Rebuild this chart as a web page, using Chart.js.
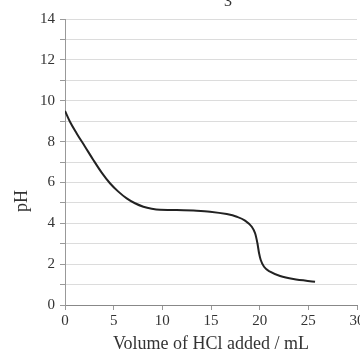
<!DOCTYPE html>
<html>
<head>
<meta charset="utf-8">
<script src="https://cdn.jsdelivr.net/npm/chart.js@4/dist/chart.umd.min.js"></script>
<style>
  html, body { margin: 0; padding: 0; background: #fff; overflow: hidden; }
  #wrap { width: 360px; height: 354px; overflow: hidden; }
</style>
</head>
<body>
<div id="wrap"><canvas id="titration" width="380" height="354"></canvas></div>
<script>
// titration curve
var volume = [0, 0.51, 1.2, 2.06, 2.91, 3.77, 4.62, 5.48, 6.34, 7.19, 8.05, 8.91, 9.76, 11.48, 13.19, 14.9,
  16.62, 17.65, 18.5, 19.19, 19.53, 19.77, 19.94, 20.11, 20.45, 21.07, 22.1, 23.46, 25.69];
var ph = [9.5, 8.97, 8.4, 7.75, 7.1, 6.48, 5.96, 5.55, 5.22, 4.98, 4.81, 4.71, 4.66, 4.65, 4.62, 4.57,
  4.45, 4.32, 4.13, 3.83, 3.51, 3.02, 2.53, 2.2, 1.87, 1.63, 1.42, 1.27, 1.14];
var xTitle = "Volume of HCl added / mL";
var yTitle = "pH";
var topLabel = "3";

var points = [];
for (var i in volume) {
  points.push({x: volume[i], y: ph[i]});
}

var serif = "'Liberation Serif', 'DejaVu Serif', serif";

// clipped label above the plot, and the pH title (sits low, not centred)
var extraText = {
  id: "extraText",
  afterDraw: function(chart) {
    var c = chart.ctx;
    c.save();
    c.fillStyle = "#333";
    c.font = "16px " + serif;
    c.textAlign = "center";
    c.textBaseline = "alphabetic";
    c.fillText(topLabel, 228, 6);
    c.translate(22.5, 201);
    c.rotate(-Math.PI / 2);
    c.font = "18px " + serif;
    c.textBaseline = "middle";
    c.fillText(yTitle, 0, 0);
    c.restore();
  }
};

var ctx = document.getElementById("titration");
var curve = new Chart(ctx, {
  type: "line",
  data: {
    datasets: [{
      data: points,
      borderColor: "#222",
      borderWidth: 2,
      pointRadius: 0,
      fill: false,
      cubicInterpolationMode: "monotone"
    }]
  },
  options: {
    responsive: false,
    animation: false,
    layout: { padding: { left: 0, top: 19, right: 23, bottom: 0 } },
    plugins: { legend: { display: false }, tooltip: { enabled: false } },
    scales: {
      x: {
        type: "linear",
        min: 0,
        max: 30,
        afterFit: function(s) { s.height = 49; },
        ticks: { stepSize: 5, autoSkip: false, color: "#333", padding: 2, font: { family: serif, size: 15 } },
        grid: { drawOnChartArea: false, drawTicks: true, tickLength: 5, color: "#999" },
        border: { color: "#888", width: 1 },
        title: { display: true, text: xTitle, color: "#333", padding: { top: 4, bottom: -1 }, font: { family: serif, size: 18 } }
      },
      y: {
        min: 0,
        max: 14,
        afterFit: function(s) { s.width = 65; },
        ticks: {
          stepSize: 1,
          autoSkip: false,
          color: "#333",
          padding: 5,
          font: { family: serif, size: 15 },
          callback: function(v) { return v % 2 === 0 ? v : ""; }
        },
        grid: { color: "#dcdcdc", tickColor: "#999", tickLength: 5 },
        border: { color: "#999", width: 1 }
      }
    }
  },
  plugins: [extraText]
});
</script>
</body>
</html>
